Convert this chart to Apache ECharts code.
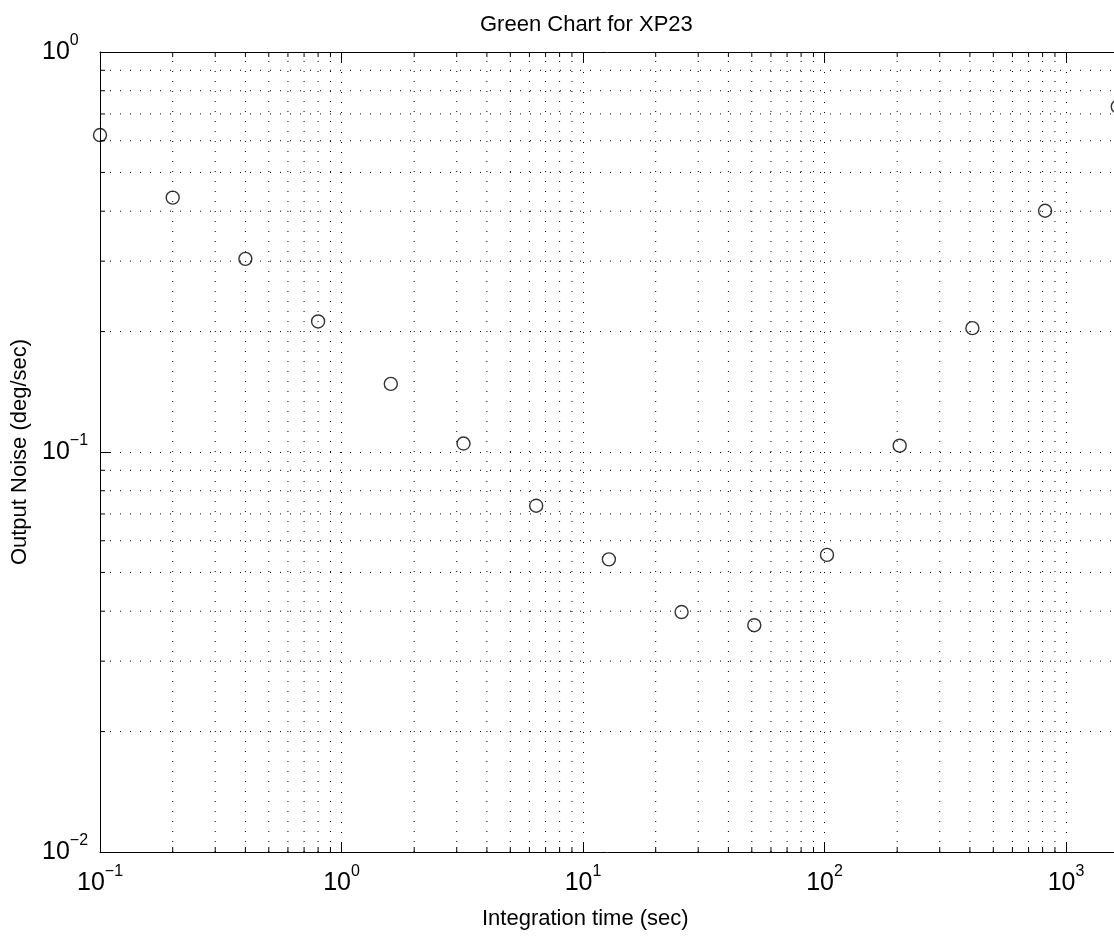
<!DOCTYPE html>
<html>
<head>
<meta charset="utf-8">
<title>Green Chart for XP23</title>
<script src="https://cdn.jsdelivr.net/npm/echarts@6/dist/echarts.min.js"></script>
<style>
  html, body { margin: 0; padding: 0; background: #fff; }
  #chart { width: 1114px; height: 938px; }
</style>
</head>
<body>
<div id="chart"></div>
<script>
// 数据
const integrationTime = [0.1, 0.2, 0.4, 0.8, 1.6, 3.2, 6.4, 12.8, 25.6, 51.2, 102.4, 204.8, 409.6, 819.2, 1638.4]
const outputNoise = [0.62, 0.4325, 0.304, 0.212, 0.148, 0.105, 0.0734, 0.0539, 0.0398, 0.0369, 0.0553, 0.1037, 0.204, 0.401, 0.73]
const xDecades = [0.1, 1, 10, 100, 1000, 10000]
const yDecades = [0.01, 0.1, 1]

const FONT = 'Liberation Sans, Arial, Helvetica, sans-serif'
const xMin = xDecades[0]
const xMax = xDecades[xDecades.length - 1]
const yMin = yDecades[0]
const yMax = yDecades[yDecades.length - 1]

// 次刻度位置 (2..9 x 10^k)
const minorOf = (decades) => {
  const out = []
  for (let i = 0; i < decades.length - 1; i++) {
    for (let k = 2; k <= 9; k++) out.push(k * decades[i])
  }
  return out
}
const xMinor = minorOf(xDecades)
const yMinor = minorOf(yDecades)

// 10^n 标签
const powLabel = (v) => {
  const e = Math.round(Math.log10(v))
  return '{b|10}{s|' + (e < 0 ? '\u2212' + (-e) : e) + '}'
}
const labelRich = {
  b: { fontSize: 25, lineHeight: 38, fontFamily: FONT, color: '#000' },
  s: { fontSize: 16, lineHeight: 16, verticalAlign: 'top', fontFamily: FONT, color: '#000' }
}

const gridStyle = { color: '#000', width: 1, type: [1, 9] }

const chart = echarts.init(document.getElementById('chart'), null, { renderer: 'canvas' })

const option = {
  backgroundColor: '#fff',
  animation: false,
  title: [
    {
      text: 'Green Chart for XP23',
      left: 475,
      top: 9,
      textStyle: { fontFamily: FONT, fontSize: 22, fontWeight: 'normal', color: '#000' }
    },
    {
      text: 'Integration time (sec)',
      left: 477,
      top: 903,
      textStyle: { fontFamily: FONT, fontSize: 22, fontWeight: 'normal', color: '#000' }
    }
  ],
  // 坐标区右侧超出画面 (原图被裁切)
  grid: {
    left: 100,
    top: 52,
    width: 1207.5,
    height: 800,
    containLabel: false,
    outerBoundsMode: 'none'
  },
  xAxis: [
    {
      type: 'log',
      logBase: 10,
      min: xMin,
      max: xMax,
      position: 'bottom',
      axisLine: { show: true, lineStyle: { color: '#000', width: 1 } },
      axisTick: { show: true, inside: true, length: 10, lineStyle: { color: '#000' } },
      axisLabel: { margin: 12, formatter: powLabel, rich: labelRich },
      splitLine: { show: true, lineStyle: gridStyle }
    },
    {
      type: 'log',
      logBase: 10,
      min: xMin,
      max: xMax,
      position: 'top',
      axisLine: { show: true, lineStyle: { color: '#000', width: 1 } },
      axisTick: { show: true, inside: true, length: 10, lineStyle: { color: '#000' } },
      axisLabel: { show: false },
      splitLine: { show: false }
    }
  ],
  yAxis: {
    type: 'log',
    logBase: 10,
    min: yMin,
    max: yMax,
    name: 'Output Noise (deg/sec)',
    nameLocation: 'middle',
    nameGap: 66,
    nameTextStyle: { fontFamily: FONT, fontSize: 22, color: '#000' },
    axisLine: { show: true, lineStyle: { color: '#000', width: 1 } },
    axisTick: { show: true, inside: true, length: 10, lineStyle: { color: '#000' } },
    axisLabel: { margin: 58, align: 'left', formatter: powLabel, rich: labelRich },
    splitLine: { show: true, lineStyle: gridStyle }
  },
  series: [
    {
      // 竖向次网格和刻度
      type: 'custom',
      z: 1,
      silent: true,
      data: xMinor.map((v) => [v, yMin]),
      renderItem: (params, api) => {
        const v = api.value(0)
        const top = api.coord([v, yMax])
        const bot = api.coord([v, yMin])
        return {
          type: 'group',
          children: [
            { type: 'line', shape: { x1: bot[0], y1: bot[1], x2: top[0], y2: top[1] }, style: { stroke: '#000', lineWidth: 1, lineDash: [1, 9] } },
            { type: 'line', shape: { x1: bot[0], y1: bot[1], x2: bot[0], y2: bot[1] - 5 }, style: { stroke: '#000', lineWidth: 1 } },
            { type: 'line', shape: { x1: top[0], y1: top[1], x2: top[0], y2: top[1] + 5 }, style: { stroke: '#000', lineWidth: 1 } }
          ]
        }
      }
    },
    {
      // 横向次网格和刻度
      type: 'custom',
      z: 1,
      silent: true,
      data: yMinor.map((v) => [xMin, v]),
      renderItem: (params, api) => {
        const v = api.value(1)
        const left = api.coord([xMin, v])
        const right = api.coord([xMax, v])
        return {
          type: 'group',
          children: [
            { type: 'line', shape: { x1: left[0], y1: left[1], x2: right[0], y2: right[1] }, style: { stroke: '#000', lineWidth: 1, lineDash: [1, 9] } },
            { type: 'line', shape: { x1: left[0], y1: left[1], x2: left[0] + 5, y2: left[1] }, style: { stroke: '#000', lineWidth: 1 } }
          ]
        }
      }
    },
    {
      name: 'Output Noise',
      type: 'scatter',
      z: 3,
      symbol: 'circle',
      symbolSize: 13,
      itemStyle: { color: 'transparent', borderColor: '#000', borderWidth: 1.4 },
      data: integrationTime.map((t, i) => [t, outputNoise[i]])
    }
  ]
}

chart.setOption(option)
window.addEventListener('resize', () => chart.resize())
</script>
</body>
</html>
